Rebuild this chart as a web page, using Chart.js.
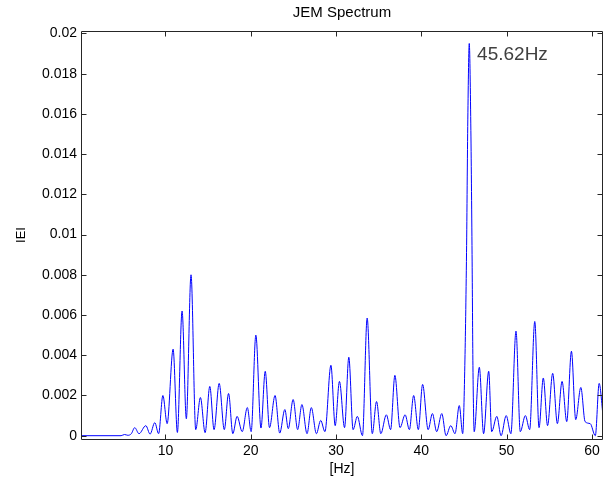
<!DOCTYPE html>
<html>
<head>
<meta charset="utf-8">
<script src="https://cdn.jsdelivr.net/npm/chart.js@4"></script>
<style>
  html, body { margin: 0; padding: 0; background: #fff; }
</style>
</head>
<body>
<canvas id="spectrum" width="609" height="486"></canvas>
<script>
// spectrum: frequency [Hz] and |E|
const freqs = [
  0.1, 4.8, 5.2, 5.6, 6.0, 6.4, 6.9, 7.7, 8.2, 8.75, 9.2, 9.7, 10.2, 10.9, 11.4, 11.95,
  12.45, 13.0, 13.55, 14.1, 14.65, 15.2, 15.7, 16.3, 16.9, 17.4, 17.9, 18.4, 19.0, 19.6,
  20.05, 20.6, 21.2, 21.7, 22.2, 22.85, 23.4, 24.0, 24.4, 24.97, 25.5, 26.0, 26.6, 27.1,
  27.7, 28.2, 28.7, 29.4, 29.9, 30.4, 31.0, 31.5, 32.0, 32.5, 33.1, 33.65, 34.25, 34.75,
  35.25, 35.9, 36.4, 36.9, 37.5, 38.1, 38.6, 39.1, 39.65, 40.15, 40.8, 41.3, 41.8, 42.4,
  42.9, 43.45, 43.95, 44.45, 44.85, 45.1, 45.3, 45.45, 45.62, 45.8, 45.95, 46.05, 46.2,
  46.8, 47.3, 47.9, 48.25, 48.85, 49.35, 49.95, 50.5, 51.1, 51.6, 52.2, 52.7, 53.3, 53.8,
  54.3, 54.8, 55.4, 55.95, 56.5, 57.05, 57.6, 58.1, 58.7, 59.2, 59.8, 60.4, 60.85, 61.3
];
const magnitude = [
  0, 0, 0.00006, 0.00002, 0.0001, 0.0004, 0.0001, 0.0005, 0.00008, 0.00065, 0.0001, 0.002, 0.0006, 0.0043, 0.00016, 0.0062,
  0.00084, 0.0080, 0.0003, 0.0019, 0.00015, 0.00245, 0.0003, 0.0026, 0.0003, 0.0021, 0.0001, 0.00096, 0.0002, 0.0014,
  0.0002, 0.0050, 0.00038, 0.0032, 0.0004, 0.002, 0.00013, 0.0013, 0.00035, 0.0018, 0.0003, 0.00155, 0.0001, 0.0014,
  0.0001, 0.00076, 0.0002, 0.0035, 0.0005, 0.0027, 0.0004, 0.0039, 0.0003, 0.00096, 0.0, 0.00585, 0.0001, 0.0017,
  0.0001, 0.00104, 0.0003, 0.003, 0.0004, 0.00104, 0.0003, 0.002, 0.0003, 0.00255, 0.0003, 0.0011, 0.0002, 0.0011,
  0.0, 0.0005, 0.0001, 0.0015, 0.0001, 0.0035, 0.0091, 0.0157, 0.0195, 0.0155, 0.009, 0.0035, 0.0002,
  0.0034, 0.0001, 0.0032, 0.0002, 0.00096, 0.0, 0.001, 0.0001, 0.0052, 0.0002, 0.001, 0.0003, 0.00568, 0.0004,
  0.00287, 0.0005, 0.0031, 0.0006, 0.0027, 0.0007, 0.0042, 0.0008, 0.0024, 0.0007, 0.0006, 0.0, 0.0026, 0.001
];
const xTicks = [10, 20, 30, 40, 50, 60];
const yTicks = [0, 0.002, 0.004, 0.006, 0.008, 0.01, 0.012, 0.014, 0.016, 0.018, 0.02];
const peakLabel = '45.62Hz';
const peakLabelAt = [46.54, 0.01895];

const axisColor = '#262626';
const font = 'Liberation Sans';

// MATLAB style box with inward ticks on all four sides
const frame = {
  id: 'frame',
  afterDatasetsDraw(chart) {
    const { ctx, chartArea: a, scales: { x, y } } = chart;
    const len = 5;
    ctx.save();
    ctx.strokeStyle = axisColor;
    ctx.lineWidth = 1;
    ctx.beginPath();
    ctx.rect(a.left + 0.5, a.top + 0.5, a.right - a.left - 1, a.bottom - a.top);
    xTicks.forEach(v => {
      const px = Math.round(x.getPixelForValue(v)) + 0.5;
      ctx.moveTo(px, a.bottom + 0.5); ctx.lineTo(px, a.bottom + 0.5 - len);
      ctx.moveTo(px, a.top + 0.5); ctx.lineTo(px, a.top + 0.5 + len);
    });
    yTicks.forEach(v => {
      const py = Math.round(y.getPixelForValue(v)) + 0.5;
      ctx.moveTo(a.left + 0.5, py); ctx.lineTo(a.left + 0.5 + len, py);
      ctx.moveTo(a.right - 0.5, py); ctx.lineTo(a.right - 0.5 - len, py);
    });
    ctx.stroke();

    ctx.font = '19px "' + font + '"';
    ctx.fillStyle = '#404040';
    ctx.textBaseline = 'middle';
    ctx.fillText(peakLabel, x.getPixelForValue(peakLabelAt[0]), y.getPixelForValue(peakLabelAt[1]));
    ctx.restore();
  }
};

new Chart(document.getElementById('spectrum'), {
  type: 'line',
  data: {
    datasets: [{
      data: freqs.map((f, i) => ({ x: f, y: magnitude[i] })),
      borderColor: '#0000ff',
      borderWidth: 1,
      pointRadius: 0,
      fill: false,
      cubicInterpolationMode: 'monotone',
    }],
  },
  options: {
    responsive: false,
    animation: false,
    layout: { padding: { left: 0, right: 6, top: 0, bottom: 0 } },
    plugins: {
      legend: { display: false },
      tooltip: { enabled: false },
      title: {
        display: true,
        text: 'JEM Spectrum',
        color: '#000',
        fullSize: false,
        font: { family: font, size: 15, weight: 'normal', lineHeight: 1.2 },
        padding: { top: 4, bottom: 9 },
      },
    },
    scales: {
      x: {
        type: 'linear',
        min: 0.1,
        max: 61.3,
        afterBuildTicks: s => { s.ticks = xTicks.map(v => ({ value: v })); },
        afterFit: s => { s.height = 47; },
        grid: { display: false, drawTicks: false },
        border: { display: false },
        ticks: { color: '#000', font: { family: font, size: 14 }, padding: 4, maxRotation: 0 },
        title: {
          display: true, text: '[Hz]', color: '#000',
          font: { family: font, size: 14 }, padding: { top: 0, bottom: 8 },
        },
      },
      y: {
        type: 'linear',
        min: -0.000164,
        max: 0.02012,
        afterBuildTicks: s => { s.ticks = yTicks.map(v => ({ value: v })); },
        afterFit: s => { s.width = 81; },
        grid: { display: false, drawTicks: false },
        border: { display: false },
        ticks: {
          color: '#000', font: { family: font, size: 14 }, padding: 4,
          callback: v => String(+v.toFixed(4)),
        },
        title: {
          display: true, text: 'IEI', color: '#000',
          font: { family: font, size: 13 }, padding: { top: 14, bottom: 0 },
        },
      },
    },
  },
  plugins: [frame],
});
</script>
</body>
</html>
